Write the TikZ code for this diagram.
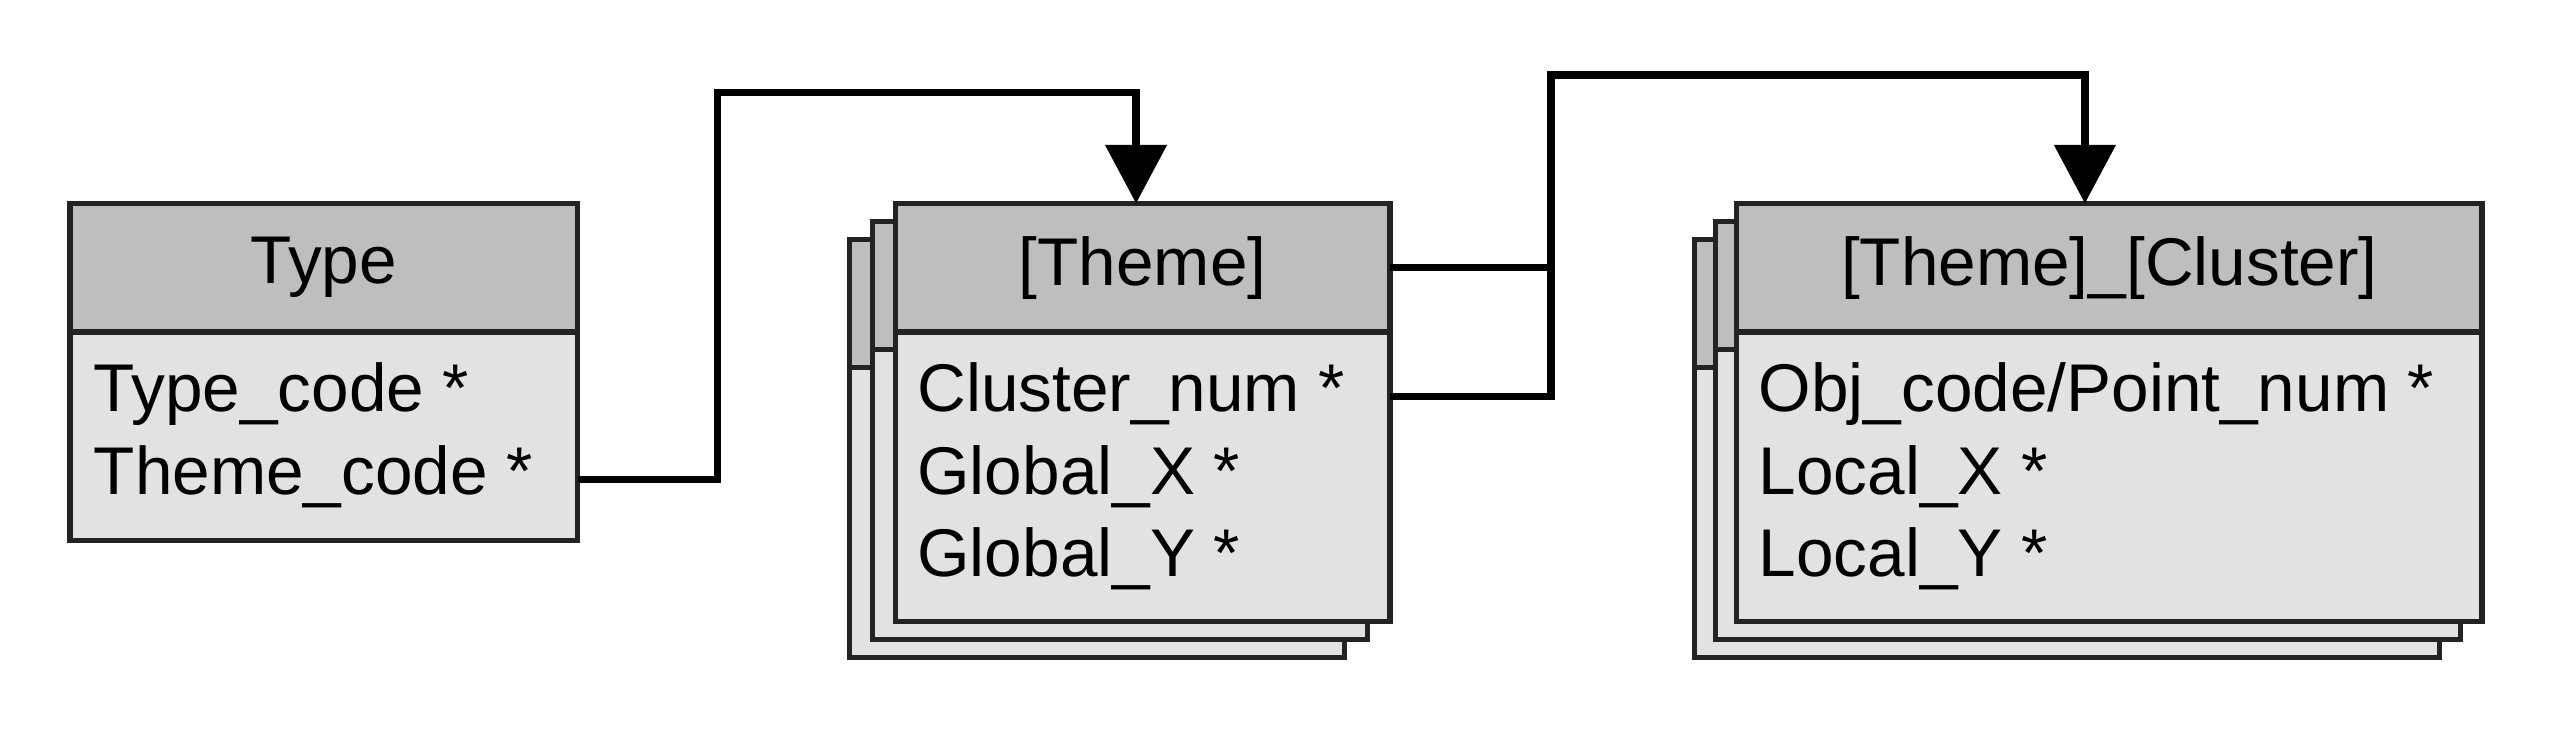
\documentclass[tikz,border=0pt]{standalone}
\usepackage{fontspec}
\setmainfont{Liberation Sans}
\definecolor{hdgray}{RGB}{190,190,190}
\definecolor{bdgray}{RGB}{226,226,226}
\definecolor{edgegray}{RGB}{35,35,35}
\usetikzlibrary{arrows.meta,positioning}

\tikzset{
  tblhead/.style={draw=edgegray,fill=hdgray,line width=0.9pt,minimum height=0.79cm,
                  inner sep=0pt,outer sep=0pt,font=\fontsize{11.8}{14}\selectfont},
  tblbody/.style={draw=edgegray,fill=bdgray,line width=0.9pt,inner sep=0pt,outer sep=0pt},
  attr/.style={anchor=base west,inner sep=0pt,font=\fontsize{11.8}{14}\selectfont},
  link/.style={line width=1.3pt,-{Triangle[length=0.36cm,width=0.37cm]}},
}

\begin{document}
\begin{tikzpicture}
  \useasboundingbox (0,0) rectangle (15.68,-4.60);
  %% Table 1: Type
  \node[tblhead,minimum width=3.12cm] (typeH) at (1.99,-1.645) {Type};
  \node[tblbody,minimum width=3.12cm,minimum height=1.28cm,below=0pt of typeH] (typeB) {};
  \node[attr] (typeCode)  at (0.57,-2.53) {Type\_code *};
  \node[attr] (themeCode) at (0.57,-3.04) {Theme\_code *};
  %% Table 2: [Theme] (stacked)
  \foreach \s in {2,1} {
    \node[tblhead,minimum width=3.04cm] (themeH\s) at ({7.02-0.14*\s},{-1.645-0.11*\s}) {};
    \node[tblbody,minimum width=3.04cm,minimum height=1.78cm,below=0pt of themeH\s] (themeB\s) {};
  }
  \node[tblhead,minimum width=3.04cm] (themeH) at (7.02,-1.645) {[Theme]};
  \node[tblbody,minimum width=3.04cm,minimum height=1.78cm,below=0pt of themeH] (themeB) {};
  \node[attr] (clusterNum) at (5.63,-2.53) {Cluster\_num *};
  \node[attr] (globalX)    at (5.63,-3.04) {Global\_X *};
  \node[attr] (globalY)    at (5.63,-3.54) {Global\_Y *};
  %% Table 3: [Theme]_[Cluster] (stacked)
  \foreach \s in {2,1} {
    \node[tblhead,minimum width=4.58cm] (clusH\s) at ({12.96-0.13*\s},{-1.645-0.11*\s}) {};
    \node[tblbody,minimum width=4.58cm,minimum height=1.78cm,below=0pt of clusH\s] (clusB\s) {};
  }
  \node[tblhead,minimum width=4.58cm] (clusH) at (12.96,-1.645) {[Theme]\_[Cluster]};
  \node[tblbody,minimum width=4.58cm,minimum height=1.78cm,below=0pt of clusH] (clusB) {};
  \node[attr] (objCode) at (10.80,-2.53) {Obj\_code/Point\_num *};
  \node[attr] (localX)  at (10.80,-3.04) {Local\_X *};
  \node[attr] (localY)  at (10.80,-3.54) {Local\_Y *};
  %% Links
  \draw[link] (themeCode.mid -| typeB.east) -- ++(0.86,0)
        |- ([xshift=-0.04cm]themeH.north |- 0,-0.57) -- ([xshift=-0.04cm]themeH.north);
  \draw[line width=1.3pt] (themeH.east) -- ++(0.99,0);
  \draw[link] (clusterNum.mid -| themeB.east) -- ++(0.99,0)
        |- ([xshift=-0.15cm]clusH.north |- 0,-0.46) -- ([xshift=-0.15cm]clusH.north);
\end{tikzpicture}
\end{document}
